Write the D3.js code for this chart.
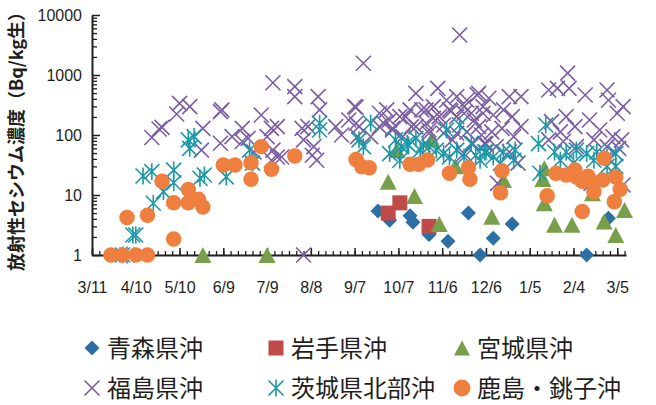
<!DOCTYPE html>
<html>
<head>
<meta charset="utf-8">
<script src="https://cdn.jsdelivr.net/npm/d3@7"></script>
<style>
  html, body { margin: 0; padding: 0; background: #fff; }
  svg { display: block; }
</style>
</head>
<body>
<svg id="chart" width="656" height="405"></svg>
<script>
// Radioactive cesium in fish by sea area, 2011-03-11 to 2012-03-11 (Bq/kg, wet weight)
const xTickLabels = ["3/11","4/10","5/10","6/9","7/9","8/8","9/7","10/7","11/6","12/6","1/5","2/4","3/5"];
const yTickValues = [1, 10, 100, 1000, 10000];
const yAxisTitle = "放射性セシウム濃度（Bq/kg生）";

// [date (M/D), concentration]
const aomori = [["9/23",5.4],["10/1",3.8],["10/15",4.5],["10/17",3.5],["10/28",2.2],["11/10",1.7],
  ["11/24",5.0],["12/2",1],["12/11",1.9],["12/24",3.3],["2/13",1],["2/28",4.1]];

const iwate = [["9/30",5.0],["10/8",7.4],["10/28",3.0]];

const miyagi = [["5/26",1],["7/9",1],["9/30",16.7],["10/6",56],["10/18",9.6],["10/30",85],["11/4",3.3],
  ["11/15",30],["12/10",4.35],["12/18",17.8],["1/15",28],["1/14",18.5],["1/15",7.3],["1/22",3.2],
  ["2/3",3.2],["2/17",10.7],["2/25",3.6],["3/4",2.15],["3/10",5.6]];

const fukushima = [["4/21",91],["4/26",126],["4/28",134],["5/8",224],["5/10",336],["5/17",297],["5/26",129],
  ["5/25",56],["6/7",245],["6/8",262],["6/7",73],["6/15",94],["6/22",129],["6/22",78],["6/26",88],["6/30",52],
  ["7/5",215],["7/13",744],["7/9",94],["7/12",129],["7/16",43],["7/12",38],["7/16",138],["7/13",56],["7/19",43],
  ["7/28",640],["7/28",437],["8/2",129],["8/6",138],["8/3",83],["8/10",64],["8/12",38],["8/9",46],["8/3",1],
  ["8/13",437],["8/14",262],["8/25",138],["8/29",100],["9/3",178],["9/7",297],["9/13",1567],["9/8",157],
  ["9/9",94],["9/10",138],["9/18",94],["9/8",290],["9/24",230],["9/24",138],["9/27",157],["9/29",262],
  ["10/1",178],["10/3",129],["10/3",121],["10/8",202],["10/10",94],["10/12",202],["10/15",262],["10/16",138],
  ["10/19",495],["10/19",138],["10/23",262],["10/26",157],["10/26",262],["10/28",121],["10/28",107],
  ["10/31",297],["10/31",190],["11/3",600],["11/4",202],["11/7",147],["11/7",107],["11/9",380],["11/11",262],
  ["11/12",250],["11/13",83],["11/16",437],["11/16",202],["11/16",107],["11/18",4640],["11/21",297],
  ["11/21",230],["11/21",49],["11/23",380],["11/23",113],["11/26",230],["11/28",178],["11/27",72],
  ["11/30",464],["12/1",495],["12/1",138],["12/4",297],["12/4",230],["12/3",100],["12/5",72],["12/6",72],
  ["12/8",410],["12/10",113],["12/11",215],["12/13",64],["12/14",15.6],["12/17",129],["12/18",262],
  ["12/22",437],["12/22",52],["12/24",202],["12/25",94],["12/28",34],["12/30",437],["12/30",138],
  ["1/18",562],["1/18",83],["1/20",167],["1/24",600],["1/26",113],["1/28",78],["1/30",202],["1/31",1072],
  ["2/1",600],["2/5",138],["2/6",64],["2/12",464],["2/15",178],["2/16",15.6],["2/18",83],["2/22",121],
  ["2/27",562],["2/27",64],["2/28",380],["3/2",94],["3/5",230],["3/6",60],["3/8",83],["3/9",297],["3/9",14.7]];

const ibaraki = [["4/1",1],["4/4",1],["4/8",2.15],["4/10",2.15],["4/15",20.7],["4/21",24.5],["4/22",7.3],
  ["4/29",11.4],["5/6",26],["5/6",16],["5/16",83],["5/17",60],["5/20",94],["5/24",19],["5/27",21.5],
  ["6/11",20],["6/27",56],["6/29",34],["8/14",157],["8/14",121],["9/10",83],["9/13",64],["9/18",157],
  ["10/1",49],["10/5",83],["10/8",38],["10/9",64],["10/13",72],["10/14",68],["10/19",88],["10/22",56],
  ["10/24",68],["10/28",64],["11/2",56],["11/7",49],["11/9",121],["11/11",43],["11/16",56],["11/18",147],
  ["11/21",43],["11/26",72],["11/29",46],["12/2",38],["12/5",52],["12/6",52],["12/11",43],["12/16",34],
  ["12/18",52],["12/25",38],["12/26",56],["1/11",72],["1/12",23],["1/16",147],["1/22",52],["1/26",38],
  ["1/30",52],["2/4",34],["2/6",56],["2/13",49],["2/18",38],["2/20",52],["2/27",43],["2/27",30],
  ["3/4",49],["3/4",30]];

const kashima = [["3/24",1],["4/1",1],["4/10",1],["4/18",1],["4/4",4.2],["4/18",4.6],["4/28",17],["5/6",7.4],
  ["5/6",1.85],["5/16",12.4],["5/16",7.4],["5/23",8.5],["5/26",6.3],["6/9",31.6],["6/17",31.6],["6/28",34.5],
  ["6/28",18.3],["7/5",64],["7/12",26.8],["7/28",44.7],["9/8",39],["9/12",29.6],["9/17",28.5],["10/15",32.4],
  ["10/21",32.4],["10/27",38.3],["11/11",23],["11/24",28.5],["11/25",18.3],["12/17",25.4],["12/16",10.9],
  ["1/17",9.7],["1/23",23],["1/30",21.5],["2/5",26],["2/6",20],["2/14",20.6],["2/18",16],["2/18",11.3],
  ["2/25",41],["2/24",17.8],["3/4",20],["3/7",12.4],["3/3",7.7],["2/10",5.3],["2/10",17]];

// "M/D" -> Date; the survey year runs from 3/11/2011 to 3/10/2012
function parseMD(s) {
  const [m, d] = s.split("/").map(Number);
  const year = (m > 3 || (m === 3 && d >= 11)) ? 2011 : 2012;
  return new Date(Date.UTC(year, m - 1, d));
}

const series = [
  { name: "青森県沖", data: aomori, shape: "diamond", color: "#2C6FA4" },
  { name: "岩手県沖", data: iwate, shape: "square", color: "#BE4B48" },
  { name: "宮城県沖", data: miyagi, shape: "triangle", color: "#78A04A" },
  { name: "福島県沖", data: fukushima, shape: "cross", color: "#7B5EA3" },
  { name: "茨城県北部沖", data: ibaraki, shape: "star", color: "#1C98A8" },
  { name: "鹿島・銚子沖", data: kashima, shape: "circle", color: "#EE7F3E" }
];

const svg = d3.select("#chart");
const plot = { left: 92, right: 626, top: 15, bottom: 255 };

const start = parseMD("3/11");
const end = new Date(Date.UTC(2012, 2, 11));
const x = d3.scaleUtc().domain([start, end]).range([plot.left, plot.right]);
const y = d3.scaleLog().domain([1, 10000]).range([plot.bottom, plot.top]);

const axisColor = "#231f20";
const tickFont = "'Liberation Sans', Arial, sans-serif";

// minor y ticks (2..9 in each decade)
const yMinor = [];
for (let e = 0; e < 4; e++) for (let k = 2; k <= 9; k++) yMinor.push(k * Math.pow(10, e));
svg.append("g")
  .attr("transform", `translate(${plot.left},0)`)
  .call(d3.axisLeft(y).tickValues(yMinor).tickSizeInner(-5).tickSizeOuter(0).tickFormat(""))
  .call(g => g.select(".domain").remove())
  .call(g => g.selectAll("line").attr("stroke", axisColor).attr("stroke-width", 1.3));

// major y axis
svg.append("g")
  .attr("transform", `translate(${plot.left},0)`)
  .call(d3.axisLeft(y).tickValues(yTickValues).tickSizeInner(-8).tickSizeOuter(0).tickPadding(10)
    .tickFormat(d3.format("d")))
  .call(g => g.select(".domain").attr("stroke", axisColor).attr("stroke-width", 2))
  .call(g => g.selectAll("line").attr("stroke", axisColor).attr("stroke-width", 1.5))
  .call(g => g.selectAll("text").attr("fill", "#231f20").style("font-family", tickFont).style("font-size", "16px"));

// minor x ticks every 5 days
const xMinor = d3.range(0, 367, 5).map(d => d3.utcDay.offset(start, d));
svg.append("g")
  .attr("transform", `translate(0,${plot.bottom})`)
  .call(d3.axisBottom(x).tickValues(xMinor).tickSizeInner(-4).tickSizeOuter(0).tickFormat(""))
  .call(g => g.select(".domain").remove())
  .call(g => g.selectAll("line").attr("stroke", axisColor).attr("stroke-width", 1.3));

// major x axis, labelled every 30 days
svg.append("g")
  .attr("transform", `translate(0,${plot.bottom})`)
  .call(d3.axisBottom(x).tickValues(xTickLabels.map(parseMD)).tickSizeInner(-7).tickSizeOuter(0)
    .tickPadding(27).tickFormat((d, i) => xTickLabels[i]))
  .call(g => g.select(".domain").attr("stroke", axisColor).attr("stroke-width", 2))
  .call(g => g.selectAll("line").attr("stroke", axisColor).attr("stroke-width", 1.5))
  .call(g => g.selectAll("text").attr("fill", "#231f20").style("font-family", tickFont).style("font-size", "16px"));

// y axis title
svg.append("text")
  .attr("transform", `translate(23,${(plot.top + plot.bottom) / 2 + 2}) rotate(-90)`)
  .attr("text-anchor", "middle")
  .style("font-family", "'Noto Sans CJK JP', sans-serif")
  .style("font-size", "18px")
  .style("font-weight", "bold")
  .attr("fill", "#231f20")
  .text(yAxisTitle);

// marker shapes
function drawMarker(sel, shape, color, s) {
  const h = s / 2;
  if (shape === "diamond") {
    sel.append("path").attr("d", `M0,${-h}L${h},0L0,${h}L${-h},0Z`).attr("fill", color);
  } else if (shape === "square") {
    sel.append("rect").attr("x", -h).attr("y", -h).attr("width", s).attr("height", s).attr("fill", color);
  } else if (shape === "triangle") {
    sel.append("path").attr("d", `M0,${-h}L${h + 0.5},${h}L${-h - 0.5},${h}Z`).attr("fill", color);
  } else if (shape === "cross") {
    sel.append("path").attr("d", `M${-h},${-h}L${h},${h}M${h},${-h}L${-h},${h}`)
      .attr("stroke", color).attr("stroke-width", 1.6).attr("fill", "none");
  } else if (shape === "star") {
    sel.append("path").attr("d", `M${-h},${-h}L${h},${h}M${h},${-h}L${-h},${h}M0,${-h - 1}L0,${h + 1}`)
      .attr("stroke", color).attr("stroke-width", 1.6).attr("fill", "none");
  } else if (shape === "circle") {
    sel.append("circle").attr("r", h).attr("fill", color);
  }
}

const markerSize = { diamond: 15, square: 15, triangle: 16, cross: 15, star: 15, circle: 15.5 };

const marks = svg.append("g");
series.forEach(s => {
  const g = marks.append("g").attr("class", "series");
  g.selectAll("g.pt").data(s.data).join("g")
    .attr("class", "pt")
    .attr("transform", d => `translate(${x(parseMD(d[0]))},${y(d[1])})`)
    .each(function() { drawMarker(d3.select(this), s.shape, s.color, markerSize[s.shape]); });
});

// legend: two rows of three
const legendCols = [92, 276, 462];
const legendRows = [348, 388];
const legend = svg.append("g");
series.forEach((s, i) => {
  const cx = legendCols[i % 3], cy = legendRows[Math.floor(i / 3)];
  const item = legend.append("g").attr("transform", `translate(${cx},${cy})`);
  drawMarker(item, s.shape, s.color, s.shape === "circle" ? 17 : 15);
  item.append("text")
    .attr("x", 15).attr("y", 0).attr("dy", "0.36em")
    .style("font-family", "'Noto Sans CJK JP', sans-serif")
    .style("font-size", "24px")
    .attr("fill", "#231f20")
    .text(s.name);
});
</script>
</body>
</html>
